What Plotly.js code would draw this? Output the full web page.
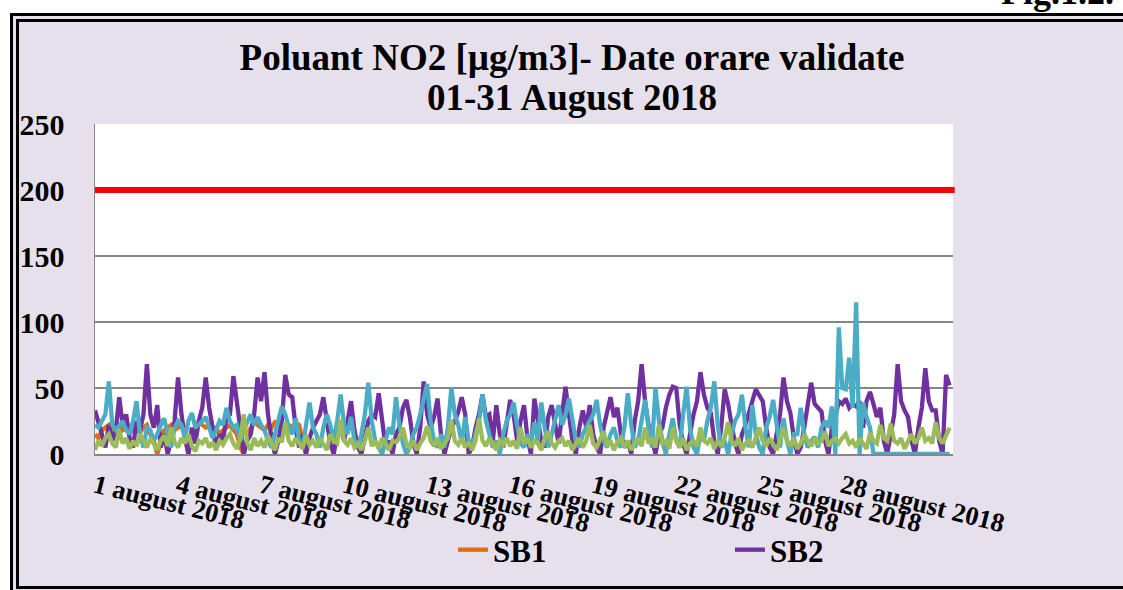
<!DOCTYPE html>
<html><head><meta charset="utf-8">
<script src="https://cdn.plot.ly/plotly-3.0.1.min.js"></script>
<style>
html,body{margin:0;padding:0;background:#fff;width:1123px;height:590px;overflow:hidden;}
#frame{position:absolute;left:10px;top:13px;width:1107px;height:564px;border:9px double #000;background:#E6E0EC;}
#chart{position:absolute;left:0;top:0;width:1123px;height:590px;}
</style></head><body>
<div id="frame"></div>
<div id="chart"></div>
<script>
// time step between consecutive values (hours from 1 Aug 2018 00:00)
const STEP_HOURS = 3;
const LIMIT = 200;
const TITLE_LINE1 = 'Poluant NO2 [µg/m3]- Date orare validate';
const TITLE_LINE2 = '01-31 August 2018';
const TICK_DAYS = [1, 4, 7, 10, 13, 16, 19, 22, 25, 28];
const TICK_LABELS = ['1 august 2018', '4 august 2018', '7 august 2018', '10 august 2018', '13 august 2018',
  '16 august 2018', '19 august 2018', '22 august 2018', '25 august 2018', '28 august 2018'];
const SERIES_NAMES = ['SB1', 'SB2', 'SB3', 'SB4'];

const SB1 = [15,12,18,20,22,18,20,22, 18,20,15,20,18,16,20,22, 15,10,0,10,18,20,22,18,
  20,22,15,0,12,20,24,22, 20,22,18,20,15,18,20,22, 18,15,5,0,12,20,24,22,
  20,18,22,20,24,22,18,20, 22,20,24,22,10,0];

const SB2 = [
  33,25,15,5,22,10,18,43,  22,30,12,5,25,18,30,68,  30,20,37,5,15,0,10,25,  58,30,12,0,20,8,25,35,
  58,35,22,5,15,10,28,30,  59,40,22,0,10,15,30,58,  40,62,30,12,0,10,25,60,  45,43,20,5,15,0,12,20,
  25,30,43,25,8,0,15,20,   10,25,40,18,5,0,12,25,   30,28,46,22,5,10,0,15,   20,35,41,28,8,0,20,55,
  30,20,28,42,15,0,10,20,  25,32,43,30,0,5,20,30,   45,28,30,10,37,15,5,22,  41,30,10,25,37,12,0,42,
  25,10,5,28,37,20,8,30,   51,30,10,0,20,33,20,37,  15,5,0,20,30,43,28,35,   15,5,10,0,25,40,68,40,
  22,10,0,15,20,35,45,51,  50,22,8,0,15,30,40,62,   45,35,31,10,0,20,49,38,  22,8,0,15,22,30,40,49,
  45,40,20,5,0,15,30,58,   40,31,12,0,5,20,35,54,   38,35,32,10,0,20,28,40,  38,42,35,38,36,40,20,40,
  47,38,28,35,10,0,15,30,  68,40,33,28,10,0,20,35,  65,40,33,33,10,0,60,52];

const SB3 = [
  22,20,25,30,55,22,18,22, 25,18,15,25,40,15,5,20,  18,10,15,22,27,15,5,20,  25,22,12,25,31,20,22,25,
  28,20,12,18,25,22,35,25, 20,22,10,18,25,30,22,28, 22,18,10,5,15,25,36,30,  20,15,27,10,5,22,39,20,
  15,5,20,30,22,10,25,45,  22,15,28,10,5,15,30,54,  25,10,5,0,10,20,15,43,   22,8,0,5,15,20,30,40,
  53,25,10,5,15,5,20,50,   30,22,8,28,10,5,15,25,   45,25,15,5,10,0,15,25,   30,39,22,8,5,15,10,24,
  10,39,20,5,15,28,37,22,  30,42,25,10,5,15,20,25,  30,41,22,10,5,15,20,10,  5,20,46,22,5,10,25,41,
  20,5,50,25,10,0,15,27,   10,5,30,51,20,5,0,15,    10,25,35,55,22,5,10,0,   15,25,30,45,20,5,37,15,
  5,0,20,28,41,20,5,27,    10,0,15,15,35,15,5,10,   13,5,20,25,20,36,0,96,   50,49,73,35,115,0,39,28,
  20,0,0,0,0,0,0,0,        0,0,0,0,0,0,0,0,         0,0,0,0,0,0,0,0];

const SB4 = [
  3,10,6,12,15,8,5,18,     8,12,4,10,6,15,10,5,     12,8,3,10,14,6,20,9,     5,12,8,15,6,2,10,8,
  12,5,9,3,10,7,12,15,     8,4,12,30,8,3,12,6,      10,5,14,8,3,12,9,24,     10,6,12,8,4,14,7,10,
  5,12,8,3,15,10,8,26,     10,7,12,5,8,3,10,20,     6,10,4,12,8,3,10,9,      12,20,8,5,10,3,8,12,
  21,10,6,12,4,8,12,26,    10,7,12,5,9,3,10,27,     10,6,12,8,3,10,7,12,     6,10,4,20,8,12,5,10,
  8,3,12,17,8,5,10,12,     6,10,3,8,12,5,10,22,     8,5,12,17,6,10,3,9,      12,5,10,3,8,12,6,20,
  8,12,5,22,8,10,4,20,     10,5,12,3,8,10,6,20,     10,8,12,4,10,6,12,24,    10,6,12,3,8,10,5,12,
  20,10,6,12,8,3,10,20,    10,6,12,4,8,15,10,6,     12,8,10,17,6,10,12,8,    12,15,8,10,5,12,8,4,
  16,10,8,22,12,10,23,10,  8,12,4,10,15,8,12,20,    10,12,8,24,12,8,15,20];

const COLORS = ['#E46C0A', '#7030A0', '#4BACC6', '#9BBB59'];
const SERIES = [SB1, SB2, SB3, SB4];
const serif = '"Liberation Serif", "Times New Roman", serif';

const traces = SERIES.map((vals, k) => ({
  type: 'scatter', mode: 'lines', name: SERIES_NAMES[k],
  x: vals.map((_, i) => i * STEP_HOURS), y: vals,
  line: {color: COLORS[k], width: 4.3},
  showlegend: k < 2, hoverinfo: 'skip'
}));

const titleFont = {family: serif, size: 37, color: '#000', weight: 'bold'};

const layout = {
  width: 1123, height: 590,
  paper_bgcolor: 'rgba(0,0,0,0)', plot_bgcolor: '#FFFFFF',
  margin: {l: 95, r: 170, t: 124, b: 136, pad: 0},
  title: {
    text: TITLE_LINE1, font: titleFont,
    xref: 'container', x: 0.5094, xanchor: 'center',
    yref: 'container', y: 0.9254, yanchor: 'top'
  },
  xaxis: {
    range: [0, 744], tickmode: 'array',
    tickvals: TICK_DAYS.map(d => (d - 1) * 24), ticktext: TICK_LABELS,
    tickangle: 14, tickfont: {family: serif, size: 26.5, color: '#000', weight: 'bold'},
    ticklabelstandoff: 5,
    showgrid: false, zeroline: false, showline: true, linecolor: '#868686', linewidth: 1.5, ticks: ''
  },
  yaxis: {
    range: [0, 250], tick0: 0, dtick: 50,
    showgrid: true, gridcolor: '#868686', gridwidth: 1.5,
    zeroline: false, showline: true, linecolor: '#868686', linewidth: 1.5, ticks: '',
    tickfont: {family: serif, size: 30, color: '#000', weight: 'bold'},
    ticklabelstandoff: 23
  },
  showlegend: true,
  legend: {
    orientation: 'h', xref: 'paper', x: 0.4172, xanchor: 'left',
    yref: 'paper', y: -0.291, yanchor: 'middle',
    entrywidth: 232, entrywidthmode: 'pixels',
    font: {family: serif, size: 31, color: '#000', weight: 'bold'},
    bgcolor: 'rgba(0,0,0,0)', borderwidth: 0
  },
  shapes: [{type: 'line', xref: 'paper', x0: 0, x1: 1.002, yref: 'y', y0: LIMIT, y1: LIMIT,
    line: {color: '#FF0000', width: 6}, layer: 'above'}],
  annotations: [
    {text: TITLE_LINE2, xref: 'paper', yref: 'paper', x: 0.5565, y: 1.0788,
      xanchor: 'center', yanchor: 'middle', showarrow: false, font: titleFont},
    {text: 'Fig.1.2.', xref: 'paper', yref: 'paper', x: 1.1900, y: 1.400,
      xanchor: 'right', yanchor: 'middle', showarrow: false,
      font: {family: serif, size: 36, color: '#000', weight: 'bold'}}
  ],
  hovermode: false
};

Plotly.newPlot('chart', traces, layout, {staticPlot: true, displayModeBar: false});
</script>
</body></html>
